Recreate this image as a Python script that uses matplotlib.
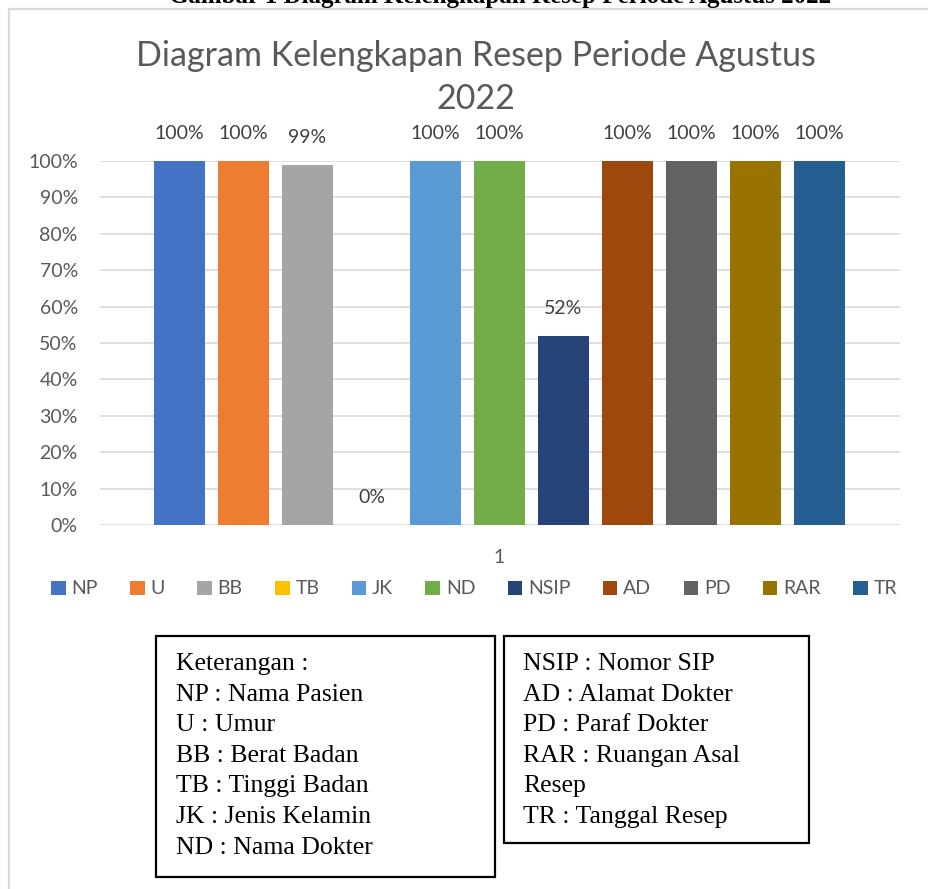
import matplotlib.pyplot as plt
from matplotlib.patches import Rectangle

kategori = ['NP', 'U', 'BB', 'TB', 'JK', 'ND', 'NSIP', 'AD', 'PD', 'RAR', 'TR']
persen = [1.00, 1.00, 0.99, 0.00, 1.00, 1.00, 0.52, 1.00, 1.00, 1.00, 1.00]
warna = ['#4472C4', '#ED7D31', '#A5A5A5', '#FFC000', '#5B9BD5', '#70AD47',
         '#264478', '#9E480E', '#636363', '#997300', '#255E91']
yticks = [i / 10 for i in range(11)]
keterangan_kiri = ['Keterangan :', 'NP : Nama Pasien', 'U : Umur', 'BB : Berat Badan',
                   'TB : Tinggi Badan', 'JK : Jenis Kelamin', 'ND : Nama Dokter']
keterangan_kanan = ['NSIP : Nomor SIP', 'AD : Alamat Dokter', 'PD : Paraf Dokter',
                    'RAR : Ruangan Asal', 'Resep', 'TR : Tanggal Resep']

W, H = 929, 889
teks = '#595959'
plt.rcParams['font.family'] = 'Lato'

fig = plt.figure(figsize=(W / 100, H / 100), dpi=100)

# caption (terpotong di atas, seperti aslinya)
fig.text(500 / W, 1 - 3 / H, 'Gambar 1 Diagram Kelengkapan Resep Periode Agustus 2022',
         ha='center', va='baseline', fontsize=18, fontweight='bold',
         family='Liberation Serif', color='black')

# bingkai chart
fig.patches.append(Rectangle((9 / W, -0.1), 1.0, 1 - 9 / H + 0.1, transform=fig.transFigure,
                             fill=False, edgecolor='#d9d9d9', linewidth=1.6))

fig.text(476 / W, 1 - 56 / H, 'Diagram Kelengkapan Resep Periode Agustus',
         ha='center', va='center', fontsize=24.5, color=teks)
fig.text(476 / W, 1 - 99 / H, '2022',
         ha='center', va='center', fontsize=24.5, color=teks)

ax = fig.add_axes([100 / W, 1 - 525 / H, 800 / W, 364 / H])
for i, (k, v, c) in enumerate(zip(kategori, persen, warna)):
    ax.bar(i, v, width=0.8, color=c, label=k, zorder=3)
    ax.annotate(f'{v:.0%}', (i, v), xytext=(0, 13.5), textcoords='offset points',
                ha='center', va='bottom', fontsize=14, color='#404040')

ax.set_xlim(-1.242, 11.258)
ax.set_ylim(0, 1)
ax.set_yticks(yticks)
ax.set_yticklabels([f'{t:.0%}' for t in yticks])
ax.set_xticks([5])
ax.set_xticklabels(['1'])
ax.tick_params(axis='y', length=0, pad=16, labelsize=14, labelcolor=teks)
ax.tick_params(axis='x', length=0, pad=17, labelsize=14, labelcolor=teks)
ax.grid(axis='y', color='#d9d9d9', linewidth=1.2, zorder=0)
ax.set_axisbelow(True)
for s in ax.spines.values():
    s.set_visible(False)

fig.legend(loc='center', bbox_to_anchor=(474 / W, 1 - 589 / H), ncol=11, frameon=False,
           handlelength=0.75, handleheight=0.75, handletextpad=0.3, columnspacing=1.66,
           fontsize=14, labelcolor=teks)

# kotak keterangan
def kotak(x0, y0, x1, y1, baris, tx):
    fig.patches.append(Rectangle((x0 / W, 1 - y1 / H), (x1 - x0) / W, (y1 - y0) / H,
                                 transform=fig.transFigure, fill=False,
                                 edgecolor='black', linewidth=1.6))
    for j, b in enumerate(baris):
        fig.text(tx / W, 1 - (664 + 30.6 * j) / H, b, ha='left', va='center',
                 fontsize=18.5, family='Liberation Serif', color='black')

kotak(156, 636, 495, 877, keterangan_kiri, 176)
kotak(504, 636, 809, 843, keterangan_kanan, 523)

fig.savefig('out.png', dpi=100)
